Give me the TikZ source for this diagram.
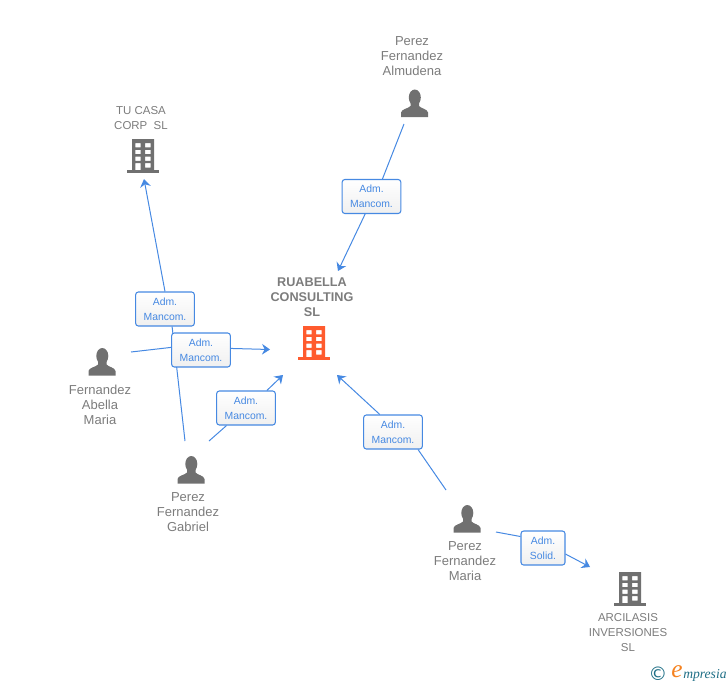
\documentclass[tikz,border=0pt]{standalone}
\usepackage{fontspec}
\setmainfont{Liberation Sans}
\newfontfamily\logofont{Liberation Serif}
\newfontfamily\symbfont{DejaVu Sans}
\usepackage{xcolor}
\usepackage{tikz}
\usetikzlibrary{arrows.meta}

\definecolor{linkblue}{HTML}{4689E2}
\definecolor{textgray}{HTML}{7C7C7C}
\definecolor{icongray}{HTML}{707070}
\definecolor{iconorange}{HTML}{FF5B2E}
\definecolor{logoteal}{HTML}{1F6F86}
\definecolor{logoorange}{HTML}{F58220}

\tikzset{
	caption/.style={font=\fontsize{9.75}{11.25}\selectfont,text=textgray,align=center,inner sep=0pt},
	companytext/.style={caption,font=\fontsize{8.6}{11.25}\selectfont},
	rolebox/.style={draw=linkblue,line width=0.8pt,rounded corners=2pt,top color=white,bottom color=white!94!black,
		text=linkblue,font=\fontsize{7.8}{11.25}\selectfont,align=center,inner sep=0pt,minimum height=25.5pt},
	link/.style={draw=linkblue,line width=0.75pt},
	linkarrow/.style={link,-{Stealth[length=6pt,width=8pt,inset=2pt]}},
	buildingicon/.style={minimum width=25.5pt,minimum height=27pt,inner sep=0pt,path picture={
		\begin{scope}[shift={(path picture bounding box.center)}]
			\fill[#1,even odd rule] (-11,-17) rectangle (11,14)
				(-7.6,-13) rectangle (-2.4,-8.6) (2.2,-13) rectangle (7.6,-8.6)
				(-7.6,-6.2) rectangle (-2.4,-1.8) (2.2,-6.2) rectangle (7.6,-1.8)
				(-7.6,.5) rectangle (-2.4,4.9) (2.2,.5) rectangle (7.6,4.9)
				(-7.6,7.1) rectangle (-2.4,14) (2.2,7.1) rectangle (7.6,11.5);
			\fill[#1] (-16,14) rectangle (16,17);
		\end{scope}}},
	personicon/.style={minimum width=21pt,minimum height=21pt,inner sep=0pt,path picture={
		\begin{scope}[shift={(path picture bounding box.center)}]
			\fill[icongray] (0.3,-6) ellipse (6 and 8);
			\fill[icongray] (-13.5,13.5) -- (-13.5,9) .. controls (-13,5.5) and (-6,5) .. (-4,2.5)
				-- (-4,-1) -- (4.5,-1) -- (4.5,2.5) .. controls (6.5,5) and (13,5.5) .. (13.5,9) -- (13.5,13.5) -- cycle;
		\end{scope}}}
}

\begin{document}
\begin{tikzpicture}[x=0.75pt,y=-0.75pt]
	\useasboundingbox (0,0) rectangle (728,685);

	% companies
	\node[buildingicon=iconorange,name=ruabella] at (314,343) {};
	\node[buildingicon=icongray,name=tucasa] at (143,156) {};
	\node[buildingicon=icongray,name=arcilasis] at (630,589) {};
	\node[caption,font=\fontsize{9.5}{11.25}\selectfont\bfseries,name=ruabellatext] at (312,297) {RUABELLA\\CONSULTING\\SL};
	\node[companytext,name=tucasatext] at (141,118.5) {TU CASA\\CORP\ \ SL};
	\node[companytext,name=arcilasistext] at (628,633) {ARCILASIS\\INVERSIONES\\SL};

	% people
	\node[personicon,name=almudena] at (414.5,103.5) {};
	\node[personicon,name=abella] at (102,362) {};
	\node[personicon,name=gabriel] at (191,470) {};
	\node[personicon,name=maria] at (467,519) {};
	\node[caption,name=almudenatext] at (412,56) {Perez\\Fernandez\\Almudena};
	\node[caption,name=abellatext] at (100,405) {Fernandez\\Abella\\Maria};
	\node[caption,name=gabrieltext] at (188,512) {Perez\\Fernandez\\Gabriel};
	\node[caption,name=mariatext] at (465,561) {Perez\\Fernandez\\Maria};

	% free ends of the links
	\coordinate (almudenaout) at (404,124);
	\coordinate (abellaout) at (131,352);
	\coordinate (gabrielup) at (185,441);
	\coordinate (gabrielout) at (209,441);
	\coordinate (mariaout) at (446,490);
	\coordinate (mariaright) at (496,532);
	\coordinate (tipalmudena) at (338,271);
	\coordinate (tipabella) at (270,349.5);
	\coordinate (tipgabriel) at (283,375);
	\coordinate (tipmaria) at (337,375);
	\coordinate (tiptucasa) at (144,179);
	\coordinate (tiparcilasis) at (590,567);

	% roles
	\node[rolebox,minimum width=44pt,name=role1] at (371.5,196.5) {Adm.\\Mancom.};
	\node[rolebox,minimum width=44pt,name=role2] at (165,309) {Adm.\\Mancom.};
	\path (gabrielup) edge[link] (role2.292)
		(role2.north) edge[linkarrow] (tiptucasa);
	\node[rolebox,minimum width=44pt,name=role3] at (201,350) {Adm.\\Mancom.};
	\node[rolebox,minimum width=44pt,name=role4] at (246,408) {Adm.\\Mancom.};
	\node[rolebox,minimum width=44pt,name=role5] at (393,432) {Adm.\\Mancom.};
	\node[rolebox,minimum width=33pt,name=role6] at (543,548) {Adm.\\Solid.};

	\path (almudenaout) edge[link] (role1.58)
		(abellaout) edge[link] (role3.175)
		(gabrielout) edge[link] (role4.222)
		(mariaout) edge[link] (role5.325)
		(mariaright) edge[link] (role6.153);
	\path (role1.250) edge[linkarrow] (tipalmudena)
		(role3.3) edge[linkarrow] (tipabella)
		(role4.40) edge[linkarrow] (tipgabriel)
		(role5.127) edge[linkarrow] (tipmaria)
		(role6.-15) edge[linkarrow] (tiparcilasis);

	% logo
	\node[inner sep=0pt,text=logoteal,font=\symbfont\fontsize{14}{14}\selectfont,name=logoc] at (658,674) {©};
	\node[inner sep=0pt,text=logoorange,font=\logofont\itshape\fontsize{19}{19}\selectfont,name=logoe] at (677,672) {e};
	\node[inner sep=0pt,anchor=west,text=logoteal,font=\logofont\itshape\fontsize{10.2}{10.2}\selectfont,name=logotext] at (683,675) {mpresia};
\end{tikzpicture}
\end{document}
